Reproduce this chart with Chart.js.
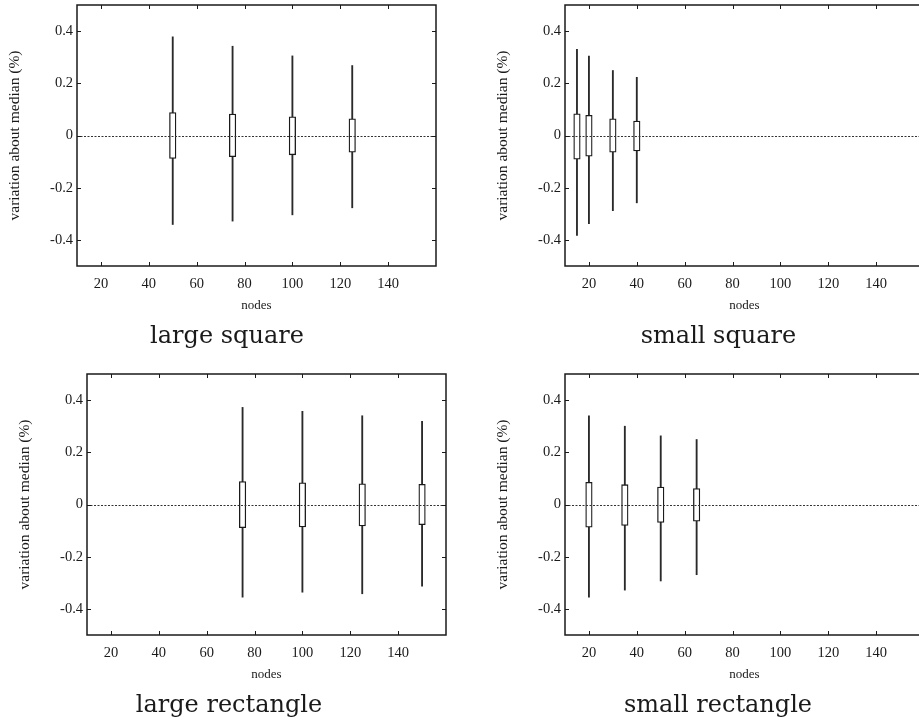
<!DOCTYPE html>
<html>
<head>
<meta charset="utf-8">
<script src="https://cdn.jsdelivr.net/npm/chart.js@4.4.1/dist/chart.umd.min.js"></script>
<style>
  html, body { margin: 0; padding: 0; background: #fff; width: 919px; height: 724px; overflow: hidden; }
  canvas { position: absolute; }
</style>
</head>
<body>
<canvas id="p1" width="454" height="362" style="left:0px;top:0px"></canvas>
<canvas id="p2" width="517" height="362" style="left:460px;top:0px"></canvas>
<canvas id="p3" width="458" height="362" style="left:0px;top:362px"></canvas>
<canvas id="p4" width="516" height="362" style="left:460px;top:362px"></canvas>
<script>
// axes
const xTicks = [20, 40, 60, 80, 100, 120, 140];
const yTicks = [-0.4, -0.2, 0, 0.2, 0.4];
const yTickLabels = ["-0.4", "-0.2", "0", "0.2", "0.4"];
const xMin = 10, xMax = 160, yMin = -0.5, yMax = 0.5;

// large square
const lsNodes = [50, 75, 100, 125];
const lsLow  = [-0.341, -0.328, -0.304, -0.277];
const lsQ1   = [-0.088, -0.081, -0.074, -0.064];
const lsQ3   = [0.088, 0.082, 0.072, 0.064];
const lsHigh = [0.378, 0.342, 0.305, 0.268];

// small square
const ssNodes = [15, 20, 30, 40];
const ssLow  = [-0.383, -0.338, -0.288, -0.258];
const ssQ1   = [-0.091, -0.079, -0.064, -0.059];
const ssQ3   = [0.083, 0.077, 0.064, 0.055];
const ssHigh = [0.330, 0.304, 0.249, 0.223];

// large rectangle
const lrNodes = [75, 100, 125, 150];
const lrLow  = [-0.355, -0.336, -0.342, -0.313];
const lrQ1   = [-0.089, -0.086, -0.082, -0.077];
const lrQ3   = [0.088, 0.083, 0.079, 0.077];
const lrHigh = [0.372, 0.357, 0.340, 0.319];

// small rectangle
const srNodes = [20, 35, 50, 65];
const srLow  = [-0.355, -0.328, -0.293, -0.269];
const srQ1   = [-0.087, -0.080, -0.069, -0.064];
const srQ3   = [0.085, 0.076, 0.067, 0.061];
const srHigh = [0.340, 0.300, 0.263, 0.249];

const serif = "'Liberation Serif', 'Times New Roman', serif";
const ink = "#1a1a1a";

// inner ticks on all four sides, frame and dotted zero line (gnuplot look)
const framePlugin = {
  id: "frame",
  afterDatasetsDraw(chart) {
    const { ctx, chartArea: a, scales: { x, y } } = chart;
    ctx.save();
    ctx.strokeStyle = "#333";
    ctx.lineWidth = 1;
    ctx.setLineDash([2, 1.5]);
    const y0 = Math.round(y.getPixelForValue(0)) + 0.5;
    ctx.beginPath();
    ctx.moveTo(a.left, y0);
    ctx.lineTo(a.right, y0);
    ctx.stroke();
    ctx.setLineDash([]);

    ctx.strokeStyle = ink;
    ctx.beginPath();
    xTicks.forEach(v => {
      const px = Math.round(x.getPixelForValue(v)) + 0.5;
      ctx.moveTo(px, a.bottom); ctx.lineTo(px, a.bottom - 4);
      ctx.moveTo(px, a.top); ctx.lineTo(px, a.top + 4);
    });
    yTicks.forEach(v => {
      const py = Math.round(y.getPixelForValue(v)) + 0.5;
      ctx.moveTo(a.left, py); ctx.lineTo(a.left + 4, py);
      ctx.moveTo(a.right, py); ctx.lineTo(a.right - 4, py);
    });
    ctx.stroke();

    ctx.lineWidth = 1.5;
    ctx.strokeRect(a.left, a.top, a.right - a.left, a.bottom - a.top);
    ctx.restore();
  }
};

// box: {yWidth, yTitleX, rightWidth, top, plotBottom} in canvas pixels
function makePanel(id, caption, nodes, low, q1, q3, high, box) {
  const canvas = document.getElementById(id);
  const yTitleSize = 15.5;
  const capTop = 4;
  const capBottom = canvas.height - box.plotBottom - 52 - 28.8 - capTop;
  return new Chart(canvas, {
    type: "bar",
    data: {
      datasets: [
        {
          data: nodes.map((n, i) => ({ x: n, y: [low[i], high[i]] })),
          backgroundColor: "#2a2a2a",
          borderWidth: 0,
          barThickness: 1.2,
          grouped: false,
          order: 2
        },
        {
          data: nodes.map((n, i) => ({ x: n, y: [q1[i], q3[i]] })),
          backgroundColor: "#fff",
          borderColor: ink,
          borderWidth: 1.3,
          borderSkipped: false,
          barThickness: 6.5,
          grouped: false,
          order: 1
        }
      ]
    },
    options: {
      responsive: false,
      animation: false,
      devicePixelRatio: 1,
      layout: { padding: { left: 0, right: 0, top: box.top, bottom: 0 } },
      plugins: {
        legend: { display: false },
        tooltip: { enabled: false },
        title: {
          display: true,
          position: "bottom",
          text: caption,
          color: ink,
          font: { family: "'DejaVu Serif', serif", size: 24, weight: "normal", lineHeight: 1.2 },
          padding: { top: capTop, bottom: capBottom }
        }
      },
      scales: {
        x: {
          type: "linear",
          min: xMin,
          max: xMax,
          offset: false,
          grid: { display: false, drawTicks: false },
          border: { display: false },
          afterBuildTicks: s => { s.ticks = xTicks.map(v => ({ value: v })); },
          afterFit: s => { s.height = 52; s.paddingLeft = 0; s.paddingRight = 0; },
          ticks: {
            color: ink,
            padding: 9,
            maxRotation: 0,
            font: { family: serif, size: 14.5 },
            callback: v => String(v)
          },
          title: {
            display: true,
            text: "nodes",
            color: ink,
            font: { family: serif, size: 13 },
            padding: { top: 0, bottom: 5 }
          }
        },
        y: {
          min: yMin,
          max: yMax,
          grid: { display: false, drawTicks: false },
          border: { display: false },
          afterBuildTicks: s => { s.ticks = yTicks.map(v => ({ value: v })); },
          afterFit: s => { s.width = box.yWidth; s.paddingTop = 0; s.paddingBottom = 0; },
          ticks: {
            color: ink,
            padding: 4,
            font: { family: serif, size: 14.5 },
            callback: (v, i) => yTickLabels[i]
          },
          title: {
            display: true,
            text: "variation about median (%)",
            color: ink,
            font: { family: serif, size: yTitleSize },
            padding: { top: box.yTitleX - yTitleSize * 0.6, bottom: 0 }
          }
        },
        // empty right-hand strip so the caption centres on the whole subfigure
        yRight: {
          position: "right",
          min: yMin,
          max: yMax,
          grid: { display: false, drawTicks: false },
          border: { display: false },
          ticks: { display: false },
          afterFit: s => { s.width = box.rightWidth; s.paddingTop = 0; s.paddingBottom = 0; }
        }
      }
    },
    plugins: [framePlugin]
  });
}

makePanel("p1", "large square", lsNodes, lsLow, lsQ1, lsQ3, lsHigh,
  { yWidth: 77, yTitleX: 15, rightWidth: 18, top: 5, plotBottom: 266 });
makePanel("p2", "small square", ssNodes, ssLow, ssQ1, ssQ3, ssHigh,
  { yWidth: 105, yTitleX: 43, rightWidth: 53, top: 5, plotBottom: 266 });
makePanel("p3", "large rectangle", lrNodes, lrLow, lrQ1, lrQ3, lrHigh,
  { yWidth: 87, yTitleX: 25, rightWidth: 12, top: 12, plotBottom: 273 });
makePanel("p4", "small rectangle", srNodes, srLow, srQ1, srQ3, srHigh,
  { yWidth: 105, yTitleX: 43, rightWidth: 52, top: 12, plotBottom: 273 });
</script>
</body>
</html>
